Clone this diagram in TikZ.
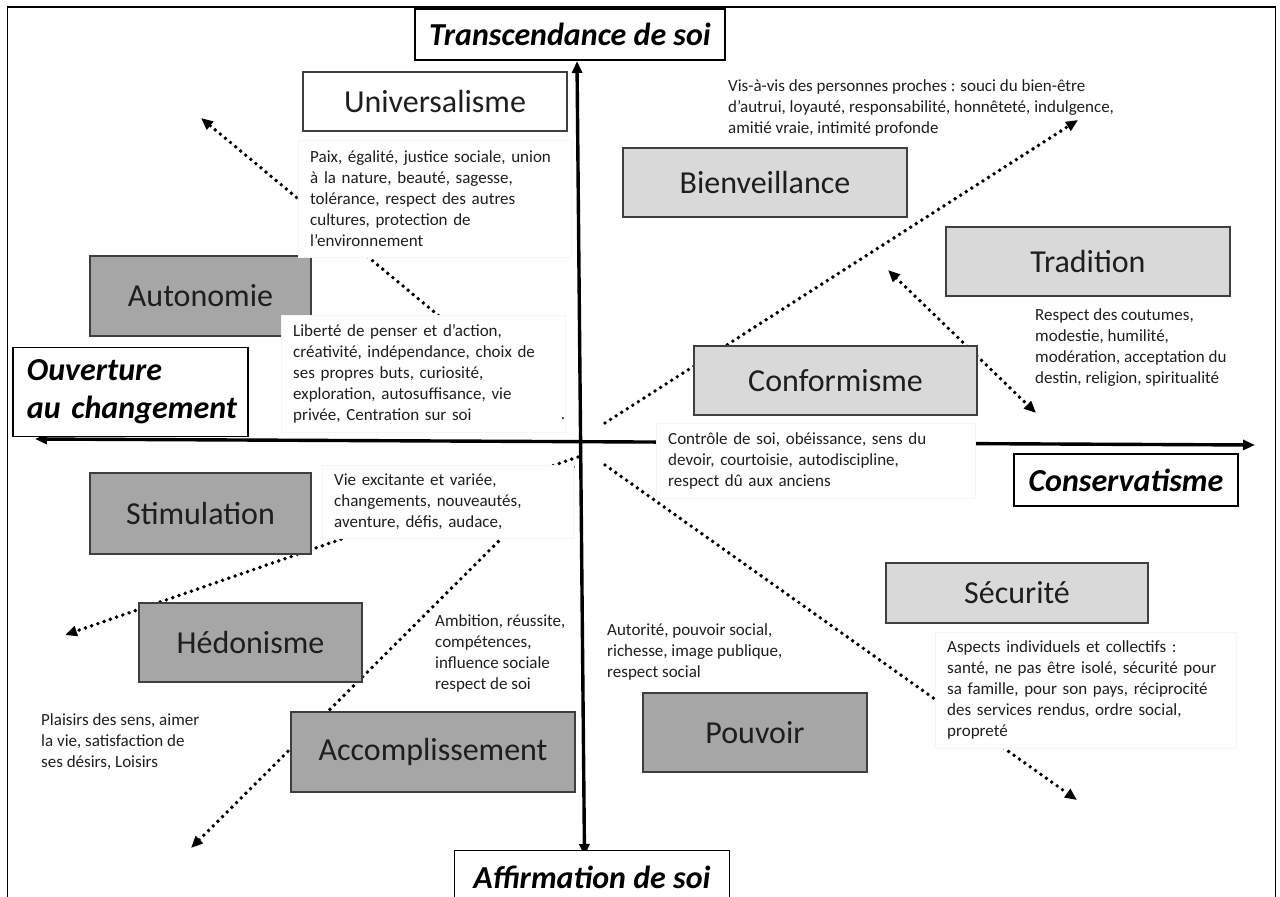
\documentclass[tikz,border=0pt]{standalone}
\usepackage{fontspec}
\setmainfont{Carlito}
\usetikzlibrary{arrows.meta,backgrounds}
\definecolor{darkfill}{HTML}{A6A6A6}
\definecolor{lightfill}{HTML}{D9D9D9}
\definecolor{edgegray}{HTML}{3F3F3F}
\definecolor{inkgray}{HTML}{1E1E1E}

\begin{document}
\begin{tikzpicture}[x=1pt,y=-1pt,
  valuebox/.style={draw=edgegray, line width=1.6pt, inner sep=0pt, text=inkgray,
    font=\fontsize{32}{38}\selectfont},
  darkval/.style={valuebox, fill=darkfill},
  lightval/.style={valuebox, fill=lightfill},
  whiteval/.style={valuebox, fill=white},
  axislabel/.style={draw=black, line width=1.4pt, fill=white, inner sep=0pt,
    font=\fontsize{32}{38}\selectfont\bfseries\itshape},
  desc/.style={font=\fontsize{17}{21}\selectfont, text=inkgray, align=left, inner sep=0pt},
  descbox/.style={desc, fill=white, draw=black!4, line width=0.4pt, anchor=north west,
    inner xsep=12pt},
  axisline/.style={line width=3.4pt,
    {Triangle[length=12pt,width=10pt]}-{Triangle[length=12pt,width=10pt]}},
  link/.style={line width=3.9pt, line cap=round, dash pattern=on 0pt off 6.6pt,
    -{Triangle[length=12pt,width=10pt]}},
  twolink/.style={link, {Triangle[length=12pt,width=10pt]}-{Triangle[length=12pt,width=10pt]}},
]
\useasboundingbox (0,0) rectangle (1280,897);

% outer frame, open at the bottom
\coordinate (frameBL) at (7.5,897);
\coordinate (frameTL) at (7.5,7);
\coordinate (frameTR) at (1275.5,7);
\coordinate (frameBR) at (1275.5,897);
\draw[line width=1.8pt] (frameBL) -- (frameTL) -- (frameTR) -- (frameBR);

% the ten values
\node[whiteval, minimum width=264pt, minimum height=59pt] (univ)   at (435,101.5)  {Universalisme};
\node[lightval, minimum width=284pt, minimum height=69pt] (bienv)  at (765,182.5)  {Bienveillance};
\node[lightval, minimum width=284pt, minimum height=69pt] (trad)   at (1088,261.5) {Tradition};
\node[darkval,  minimum width=221pt, minimum height=80pt] (auto)   at (200.5,296)  {Autonomie};
\node[lightval, minimum width=283pt, minimum height=69pt] (conf)   at (835.5,380.5) {Conformisme};
\node[darkval,  minimum width=221pt, minimum height=81pt] (stim)   at (200.5,513.5) {Stimulation};
\node[lightval, minimum width=262pt, minimum height=60pt] (secu)   at (1017,593)   {Sécurité};
\node[darkval,  minimum width=223pt, minimum height=79pt] (hedo)   at (250.5,642.5) {Hédonisme};
\node[darkval,  minimum width=284pt, minimum height=80pt] (accomp) at (433,752)    {Accomplissement};
\node[darkval,  minimum width=224pt, minimum height=79pt] (pouv)   at (755,732.5)  {Pouvoir};

% the four poles
\node[axislabel, minimum width=310pt, minimum height=51pt] (trans) at (570,34.5) {Transcendance de soi};
\node[axislabel, minimum height=89pt, text width=207pt, align=left, inner xsep=14pt]
  (ouv) at (130.5,392) {\mbox{Ouverture}\\\mbox{au changement}};
\node[axislabel, minimum width=224pt, minimum height=52pt] (cons) at (1126,480) {Conservatisme};
\node[axislabel, draw=none, minimum width=274pt, minimum height=52pt] (affirm) at (592,877)
  {Affirmation de soi};
\coordinate (pageBottom) at (0,897);
\draw[line width=1.4pt] (affirm.north west |- pageBottom) -- (affirm.north west)
  -- (affirm.north east) -- (affirm.north east |- pageBottom);

% descriptions in white boxes
\node[descbox, text width=249pt, minimum height=117pt] (univTxt) at (298,140)
  {Paix, égalité, justice sociale, union\\à la nature, beauté, sagesse,\\tolérance, respect des autres\\cultures, protection de\\l’environnement};
\node[descbox, text width=260pt, minimum height=117pt] (libTxt) at (281,315)
  {Liberté de penser et d’action,\\créativité, indépendance, choix de\\ses propres buts, curiosité,\\exploration, autosuffisance,  vie\\privée, Centration sur soi};
\node[desc] (libDot) at (563,419) {.};
\node[descbox, text width=227pt, minimum height=73pt] (vieTxt) at (322,465)
  {Vie excitante et variée,\\changements, nouveautés,\\aventure, défis, audace,};
\node[descbox, text width=295pt, minimum height=75pt] (ctrlTxt) at (656,423)
  {Contrôle de soi, obéissance, sens du\\devoir, courtoisie, autodiscipline,\\respect dû aux anciens};
\node[descbox, text width=277pt, minimum height=116pt] (aspTxt) at (935,632)
  {Aspects individuels et collectifs :\\santé, ne pas être isolé, sécurité pour\\sa famille, pour son pays, réciprocité\\des services rendus, ordre social,\\propreté};

% free-standing descriptions
\node[desc, anchor=west] (visTxt) at (728,108)
  {Vis-à-vis des personnes proches : souci du bien-être\\d’autrui, loyauté, responsabilité, honnêteté, indulgence,\\amitié vraie, intimité  profonde};
\node[desc, anchor=west] (tradTxt) at (1035,348)
  {Respect des coutumes,\\modestie, humilité,\\modération, acceptation du\\destin, religion, spiritualité};
\node[desc, anchor=west] (ambTxt) at (435,653)
  {Ambition, réussite,\\compétences,\\influence sociale\\respect de soi};
\node[desc, anchor=west] (plaiTxt) at (41,742)
  {Plaisirs des sens, aimer\\la vie, satisfaction de\\ses désirs, Loisirs};
\node[desc, anchor=west] (autTxt) at (607,652)
  {Autorité, pouvoir social,\\richesse, image publique,\\respect social};

% axes and dotted links, drawn beneath the boxes
\coordinate (vTop) at (577,61);
\coordinate (vBot) at (584.5,856);
\coordinate (hLeft) at (35,439);
\coordinate (hRight) at (1255,445);

\coordinate (ulFrom) at (540,400);  \coordinate (ulTo) at (201,118);
\coordinate (urFrom) at (605,423);  \coordinate (urTo) at (1078,120);
\coordinate (trA) at (888,270);     \coordinate (trB) at (1036,413);
\coordinate (lrFrom) at (605,465);  \coordinate (lrTo) at (1077,800);
\coordinate (llaFrom) at (578,457); \coordinate (llaTo) at (65,635);
\coordinate (llbFrom) at (573,467); \coordinate (llbTo) at (191,848);

\begin{scope}[on background layer]
  \draw[axisline] (vBot) -- (vTop);
  \draw[axisline] (hLeft) -- (hRight);
  \draw[link] (ulFrom) -- (ulTo);
  \draw[link] (urFrom) -- (urTo);
  \draw[twolink] (trA) -- (trB);
  \draw[link] (lrFrom) -- (lrTo);
  \draw[link] (llaFrom) -- (llaTo);
  \draw[link] (llbFrom) -- (llbTo);
\end{scope}
\end{tikzpicture}
\end{document}
